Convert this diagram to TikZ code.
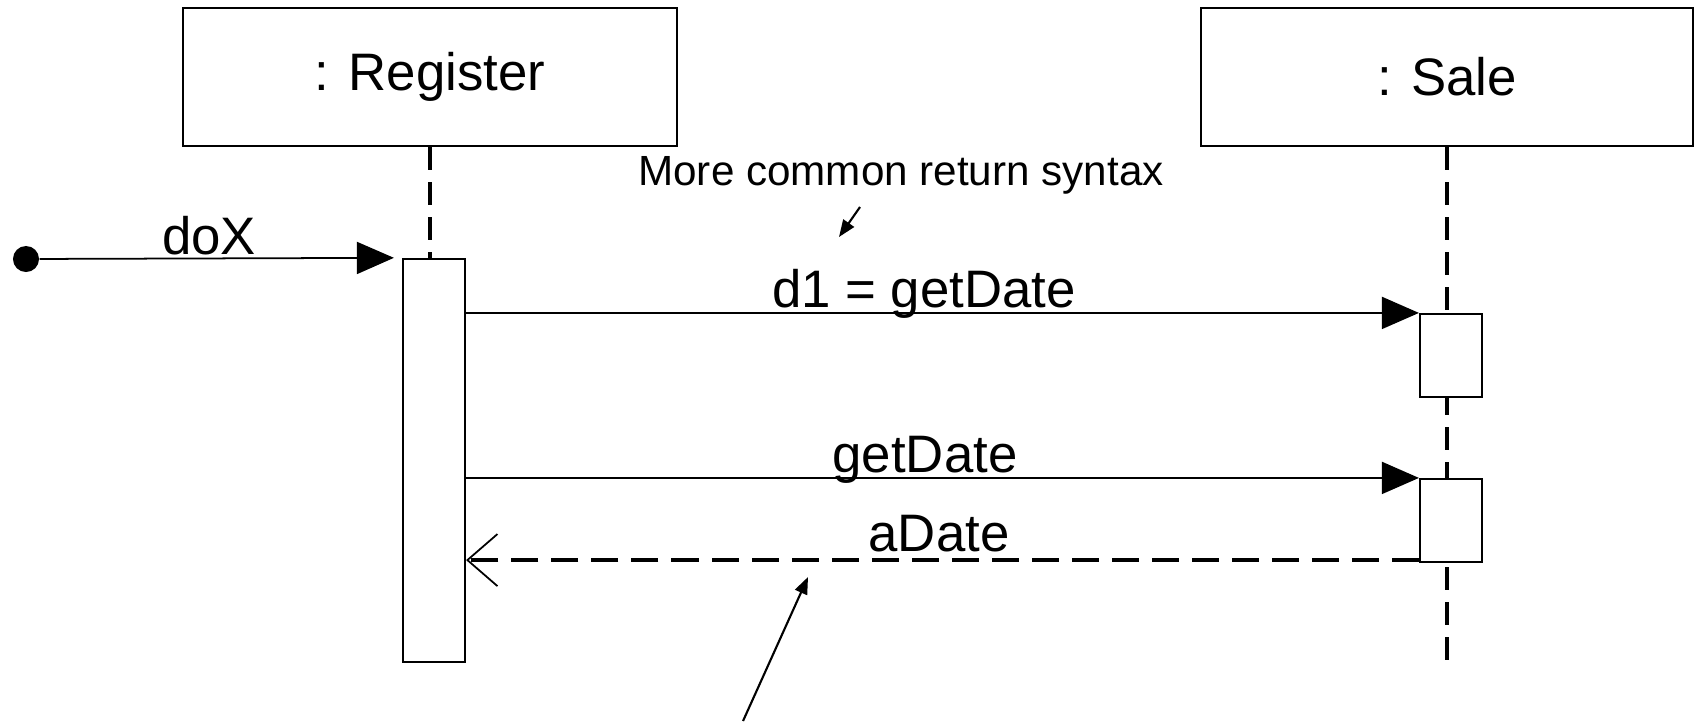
\documentclass[tikz,border=0pt]{standalone}
\usepackage{fontspec}
\setmainfont{Liberation Sans}
\usetikzlibrary{arrows.meta}

\begin{document}
\begin{tikzpicture}[x=0.01cm,y=-0.01cm,
    obj/.style={draw,line width=0.6pt,minimum height=1.38cm,inner sep=0pt,font=\fontsize{15}{18}\selectfont},
    bar/.style={draw,fill=white,line width=0.6pt,minimum width=0.62cm,inner sep=0pt},
    life/.style={line width=1pt,dash pattern=on 0.23cm off 0.12cm},
    msg/.style={line width=0.5pt,-{Triangle[length=0.37cm,width=0.32cm]}},
    ret/.style={line width=1pt,dash pattern=on 0.27cm off 0.13cm,
                -{Straight Barb[length=0.3cm,width=0.52cm,line width=0.5pt]}},
    lbl/.style={anchor=base,font=\fontsize{15}{18}\selectfont},
    pointer/.style={line width=0.6pt,-{Triangle[length=0.17cm,width=0.13cm]}}]
                      \useasboundingbox (0,0) rectangle (1698,721);
                      % objects and their lifelines
                      \node[obj,minimum width=4.94cm](reg)at(430,77){: Register};
                      \node[obj,minimum width=4.92cm](sale)at(1447,77){: Sale};
                      \coordinate (saleend) at (1447,662);
                      \draw[life] (sale.south) -- (saleend);
                      \node[bar,minimum height=4.03cm](act)at(434,460.5){};
                      \draw[life] (reg.south) -- (reg.south |- act.north);
                      \node[bar,minimum height=0.83cm](s1)at(1451,355.5){};
                      \node[bar,minimum height=0.83cm](s2)at(1451,520.5){};
                      % found message
                      \node[circle,fill,inner sep=0pt,minimum size=0.26cm](start)at(26,259){};
                      \draw[msg] (start) -- ([xshift=-0.08cm]act.north west);
                      \node[lbl](dox)at(209,254){doX};
                      % calls and the return
                      \draw[msg] (s1.north west -| act.east) -- (s1.north west);
                      \node[lbl](call1)at(924,307){d1 = getDate};
                      \draw[msg] (s2.north west -| act.east) -- (s2.north west);
                      \node[lbl](call2)at(925,472){getDate};
                      \draw[ret] ([yshift=0.03cm]s2.south west) -- ([yshift=0.03cm]s2.south west -| act.east);
                      \node[lbl](back)at(939,551){aDate};
                      % notes
                      \node[anchor=base,font=\fontsize{12}{14}\selectfont](note)at(901,185){More common return syntax};
                      \coordinate (n1) at (860,207);
                      \coordinate (n2) at (839,237);
                      \draw[pointer] (n1) -- (n2);
                      \coordinate (m1) at (743,721);
                      \coordinate (m2) at (808,577);
                      \draw[pointer] (m1) -- (m2);
                  \end{tikzpicture}
\end{document}
